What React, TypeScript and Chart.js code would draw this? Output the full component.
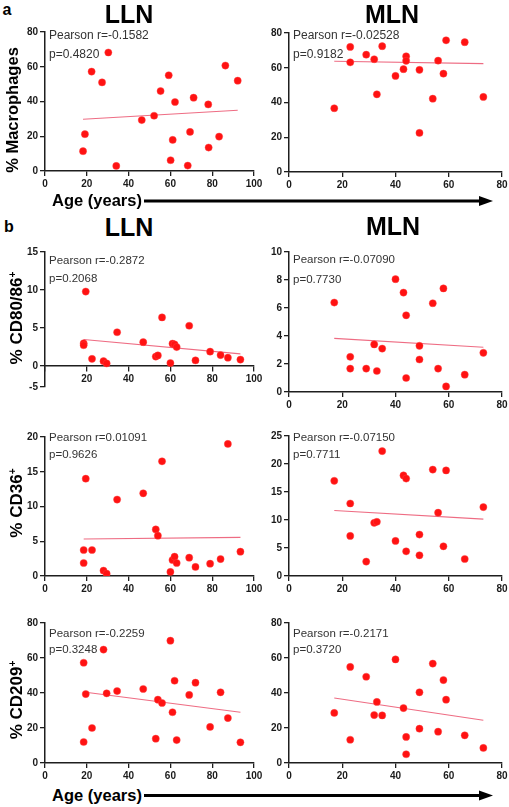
import React, { useEffect, useRef } from "react";
import { Chart, registerables } from "chart.js";
Chart.register(...registerables);

// ---------------- data ----------------
// panel a, LLN: age and % macrophages
const LLN_AGE_A = [18.2, 19.1, 22.3, 27.3, 30.3, 34.1, 46.3, 52.2, 55.3, 59.2, 60.1, 61.1, 62.2, 68.3, 69.4, 71.1, 78.1, 78.3, 83.3, 86.3, 92.2];
const LLN_MACRO = [11.4, 21.2, 57.2, 51, 68.2, 2.9, 29.3, 31.8, 46, 55.1, 6.2, 17.9, 39.7, 3.1, 22.5, 42.2, 38.3, 13.5, 19.8, 60.7, 52];
// panel b, LLN ages
const LLN_AGE_B = [18.5, 18.5, 19.5, 22.5, 28, 29.5, 34.5, 47, 53, 54, 56, 60, 61, 62, 63, 69, 72, 79, 84, 87.5, 93.5];
const LLN_CD8086 = [3.0, 2.75, 9.8, 0.95, 0.65, 0.35, 4.45, 3.15, 1.25, 1.4, 6.4, 0.4, 2.95, 2.85, 2.5, 5.3, 0.75, 1.9, 1.45, 1.1, 0.85];
const LLN_CD36 = [1.87, 3.74, 14.0, 3.74, 0.77, 0.34, 11.0, 11.9, 6.7, 5.8, 16.5, 0.58, 2.3, 2.78, 1.87, 2.64, 1.3, 1.77, 2.44, 19.0, 3.5];
const LLN_CD209 = [57.3, 12, 39.4, 20, 64.8, 39.8, 41.1, 42.3, 13.9, 36.2, 34.3, 69.9, 29, 47, 13.1, 38.9, 45.9, 20.6, 40.4, 25.7, 11.8];
// MLN ages (all panels)
const MLN_AGE = [17, 23, 23, 29, 32, 33, 35, 40, 43, 44, 44, 49, 49, 54, 56, 58, 59, 66, 73];
const MLN_MACRO = [36.7, 72, 63.1, 67.5, 64.9, 44.7, 72.4, 55.3, 59.2, 66.6, 64, 58.8, 22.5, 42.2, 64.1, 56.6, 75.8, 74.7, 43.2];
const MLN_CD8086 = [6.39, 2.51, 1.67, 1.67, 3.4, 1.5, 3.1, 8.06, 7.1, 5.48, 1.0, 3.3, 2.32, 6.34, 1.67, 7.4, 0.4, 1.24, 2.8];
const MLN_CD36 = [17.0, 12.95, 7.16, 2.57, 9.5, 9.67, 22.3, 6.26, 17.96, 17.4, 4.4, 7.4, 3.7, 19.0, 11.3, 5.3, 18.85, 3.04, 12.3];
const MLN_CD209 = [28.6, 54.9, 13.3, 49.3, 27.4, 34.9, 27.2, 59.2, 31.4, 14.9, 5, 40.4, 19.6, 56.8, 17.9, 47.4, 36.2, 15.8, 8.6];

// regression line values at min and max age
const LLN_MACRO_FIT = [29.8, 35.0];
const MLN_MACRO_FIT = [63.7, 62.4];
const LLN_CD8086_FIT = [3.5, 1.6];
const MLN_CD8086_FIT = [3.83, 3.2];
const LLN_CD36_FIT = [5.32, 5.56];
const MLN_CD36_FIT = [11.7, 10.15];
const LLN_CD209_FIT = [40.6, 29.0];
const MLN_CD209_FIT = [37.1, 24.4];

// statistics text
const PEARSON_R = ["-0.1582", "-0.02528", "-0.2872", "-0.07090", "0.01091", "-0.07150", "-0.2259", "-0.2171"];
const P_VALUES = ["0.4820", "0.9182", "0.2068", "0.7730", "0.9626", "0.7711", "0.3248", "0.3720"];

// tick values / labels
const LLN_X_TICKS = [0, 20, 40, 60, 80, 100];
const LLN_X_LABELS = ["0", "20", "40", "60", "80", "100"];
const LLN_X_LABELS_B1 = ["", "20", "40", "60", "80", "100"];
const MLN_X_TICKS = [0, 20, 40, 60, 80];
const MLN_X_LABELS = ["0", "20", "40", "60", "80"];
const Y_TICKS_80 = [0, 20, 40, 60, 80];
const Y_LABELS_80 = ["0", "20", "40", "60", "80"];
// the -5 tick sits on a compressed segment below 0
const Y_TICKS_CD8086_LLN = [-2.75, 0, 5, 10, 15];
const Y_LABELS_CD8086_LLN = ["-5", "0", "5", "10", "15"];
const Y_TICKS_10 = [0, 2, 4, 6, 8, 10];
const Y_LABELS_10 = ["0", "2", "4", "6", "8", "10"];
const Y_TICKS_20 = [0, 5, 10, 15, 20];
const Y_LABELS_20 = ["0", "5", "10", "15", "20"];
const Y_TICKS_25 = [0, 5, 10, 15, 20, 25];
const Y_LABELS_25 = ["0", "5", "10", "15", "20", "25"];

// ---------------- layout ----------------
const FONT = "'Liberation Sans', Arial, Helvetica, sans-serif";
const LLN_BOX = { left: 45, right: 254, yw: 45 };
const MLN_BOX = { left: 289, right: 502, yw: 40 };

type Spec = {
  x: number[]; y: number[]; fit: number[];
  xTicks: number[]; xLabels: string[]; yTicks: number[]; yLabels: string[];
  box: { left: number; right: number; yw: number };
  top: number; bottom: number; xAtZero?: boolean;
  stat: number; statY: [number, number]; statSize: number;
};

const SPECS: Spec[] = [
  { x: LLN_AGE_A, y: LLN_MACRO, fit: LLN_MACRO_FIT, xTicks: LLN_X_TICKS, xLabels: LLN_X_LABELS, yTicks: Y_TICKS_80, yLabels: Y_LABELS_80, box: LLN_BOX, top: 32, bottom: 171, stat: 0, statY: [35, 54], statSize: 12 },
  { x: MLN_AGE, y: MLN_MACRO, fit: MLN_MACRO_FIT, xTicks: MLN_X_TICKS, xLabels: MLN_X_LABELS, yTicks: Y_TICKS_80, yLabels: Y_LABELS_80, box: MLN_BOX, top: 33, bottom: 172, stat: 1, statY: [35, 54], statSize: 12 },
  { x: LLN_AGE_B, y: LLN_CD8086, fit: LLN_CD8086_FIT, xTicks: LLN_X_TICKS, xLabels: LLN_X_LABELS_B1, yTicks: Y_TICKS_CD8086_LLN, yLabels: Y_LABELS_CD8086_LLN, box: LLN_BOX, top: 252, bottom: 387, xAtZero: true, stat: 2, statY: [260, 278], statSize: 11.5 },
  { x: MLN_AGE, y: MLN_CD8086, fit: MLN_CD8086_FIT, xTicks: MLN_X_TICKS, xLabels: MLN_X_LABELS, yTicks: Y_TICKS_10, yLabels: Y_LABELS_10, box: MLN_BOX, top: 252, bottom: 392, stat: 3, statY: [259, 279], statSize: 11.5 },
  { x: LLN_AGE_B, y: LLN_CD36, fit: LLN_CD36_FIT, xTicks: LLN_X_TICKS, xLabels: LLN_X_LABELS, yTicks: Y_TICKS_20, yLabels: Y_LABELS_20, box: LLN_BOX, top: 437, bottom: 576, stat: 4, statY: [437, 454], statSize: 11.5 },
  { x: MLN_AGE, y: MLN_CD36, fit: MLN_CD36_FIT, xTicks: MLN_X_TICKS, xLabels: MLN_X_LABELS, yTicks: Y_TICKS_25, yLabels: Y_LABELS_25, box: MLN_BOX, top: 436, bottom: 576, stat: 5, statY: [437, 454], statSize: 11.5 },
  { x: LLN_AGE_B, y: LLN_CD209, fit: LLN_CD209_FIT, xTicks: LLN_X_TICKS, xLabels: LLN_X_LABELS, yTicks: Y_TICKS_80, yLabels: Y_LABELS_80, box: LLN_BOX, top: 623, bottom: 763, stat: 6, statY: [633, 649], statSize: 11.5 },
  { x: MLN_AGE, y: MLN_CD209, fit: MLN_CD209_FIT, xTicks: MLN_X_TICKS, xLabels: MLN_X_LABELS, yTicks: Y_TICKS_80, yLabels: Y_LABELS_80, box: MLN_BOX, top: 623, bottom: 763, stat: 7, statY: [633, 649], statSize: 11.5 },
];

const PAD_TOP = 10;
const PAD_RIGHT = 14;
const XH = 22;
const PAD_BOTTOM_ZERO = 8;

function geom(s: Spec) {
  const w = s.box.yw + (s.box.right - s.box.left) + PAD_RIGHT;
  const h = PAD_TOP + (s.bottom - s.top) + (s.xAtZero ? PAD_BOTTOM_ZERO : XH);
  return { left: s.box.left - s.box.yw, top: s.top - PAD_TOP, w, h };
}

function buildConfig(s: Spec): any {
  const pts = s.x.map((v, i) => ({ x: v, y: s.y[i] }));
  const xmin = Math.min(...s.x);
  const xmax = Math.max(...s.x);
  const fitPts = [{ x: xmin, y: s.fit[0] }, { x: xmax, y: s.fit[1] }];
  const tickFont = { family: FONT, size: 10, weight: "bold" as const };
  const axisColor = "#1e1e1e";
  return {
    type: "scatter",
    data: {
      datasets: [
        {
          data: pts,
          order: 0,
          pointRadius: 3.6,
          pointBackgroundColor: "#ff1212",
          pointBorderColor: "rgba(255,70,70,0.7)",
          pointBorderWidth: 0.6,
          showLine: false,
        },
        {
          data: fitPts,
          order: 1,
          showLine: true,
          borderColor: "rgba(236,92,118,0.9)",
          borderWidth: 1.1,
          pointRadius: 0,
        },
      ],
    },
    options: {
      animation: false,
      responsive: false,
      events: [],
      layout: { padding: { top: PAD_TOP, right: PAD_RIGHT, bottom: s.xAtZero ? PAD_BOTTOM_ZERO : 0, left: 0 } },
      plugins: { legend: { display: false }, tooltip: { enabled: false } },
      scales: {
        x: {
          type: "linear",
          min: s.xTicks[0],
          max: s.xTicks[s.xTicks.length - 1],
          position: s.xAtZero ? { y: 0 } : "bottom",
          afterBuildTicks: (sc: any) => { sc.ticks = s.xTicks.map((v) => ({ value: v })); },
          afterFit: (sc: any) => { sc.height = s.xAtZero ? 0 : XH; },
          grid: { display: true, drawOnChartArea: false, drawTicks: true, tickLength: 5, color: axisColor, lineWidth: 1.3 },
          border: { display: true, color: axisColor, width: 1.5 },
          ticks: {
            font: tickFont, color: "#1a1a1a", padding: 2, maxRotation: 0, autoSkip: false,
            callback: (_v: any, i: number) => s.xLabels[i],
          },
        },
        y: {
          type: "linear",
          min: s.yTicks[0],
          max: s.yTicks[s.yTicks.length - 1],
          afterBuildTicks: (sc: any) => { sc.ticks = s.yTicks.map((v) => ({ value: v })); },
          afterFit: (sc: any) => { sc.width = s.box.yw; },
          grid: { display: true, drawOnChartArea: false, drawTicks: true, tickLength: 5, color: axisColor, lineWidth: 1.3 },
          border: { display: true, color: axisColor, width: 1.5 },
          ticks: {
            font: tickFont, color: "#1a1a1a", padding: 2, autoSkip: false,
            callback: (_v: any, i: number) => s.yLabels[i],
          },
        },
      },
    },
  };
}

function Panel({ spec }: { spec: Spec }) {
  const ref = useRef<HTMLCanvasElement | null>(null);
  useEffect(() => {
    if (!ref.current) return;
    const chart = new Chart(ref.current, buildConfig(spec));
    return () => chart.destroy();
  }, [spec]);
  const g = geom(spec);
  return (
    <canvas
      ref={ref}
      width={g.w}
      height={g.h}
      style={{ position: "absolute", left: g.left, top: g.top, width: g.w, height: g.h }}
    />
  );
}

function Stat({ spec }: { spec: Spec }) {
  const left = spec.box.left + 4;
  const lh = spec.statSize + 3;
  const style = (cy: number): React.CSSProperties => ({
    position: "absolute", left, top: cy - lh / 2, height: lh, lineHeight: lh + "px",
    fontFamily: FONT, fontSize: spec.statSize, color: "#333", whiteSpace: "nowrap",
  });
  return (
    <>
      <div style={style(spec.statY[0])}>Pearson r={PEARSON_R[spec.stat]}</div>
      <div style={style(spec.statY[1])}>p={P_VALUES[spec.stat]}</div>
    </>
  );
}

function Text({ x, y, size, children, rotate }: { x: number; y: number; size: number; children: React.ReactNode; rotate?: boolean }) {
  return (
    <div
      style={{
        position: "absolute", left: x, top: y, transform: `translate(-50%,-50%)${rotate ? " rotate(-90deg)" : ""}`,
        fontFamily: FONT, fontWeight: "bold", fontSize: size, color: "#000", whiteSpace: "nowrap", lineHeight: 1,
      }}
    >
      {children}
    </div>
  );
}

const sup = (t: string) => <sup style={{ fontSize: "0.6em", verticalAlign: "0.55em" }}>{t}</sup>;

export default function App() {
  return (
    <div style={{ position: "absolute", left: 0, top: 0, width: 509, height: 807, background: "#fff", overflow: "hidden" }}>
      {SPECS.map((s, i) => <Panel key={"p" + i} spec={s} />)}
      {SPECS.map((s, i) => <Stat key={"s" + i} spec={s} />)}
      <Text x={7} y={10} size={16}>a</Text>
      <Text x={9} y={227} size={16}>b</Text>
      <Text x={129} y={14} size={25}>LLN</Text>
      <Text x={392} y={14} size={25}>MLN</Text>
      <Text x={129} y={227} size={25}>LLN</Text>
      <Text x={393} y={226} size={25}>MLN</Text>
      <Text x={12} y={110} size={16.5} rotate>% Macrophages</Text>
      <Text x={16} y={318} size={17} rotate>% CD80/86{sup("+")}</Text>
      <Text x={16} y={503} size={17} rotate>% CD36{sup("+")}</Text>
      <Text x={16} y={700} size={17} rotate>% CD209{sup("+")}</Text>
      <Text x={97} y={200} size={16.5}>Age (years)</Text>
      <Text x={97} y={795} size={16.5}>Age (years)</Text>
      <svg width={509} height={807} style={{ position: "absolute", left: 0, top: 0, pointerEvents: "none" }}>
        <line x1={144} y1={201} x2={482} y2={201} stroke="#000" strokeWidth={3} />
        <polygon points="479,196 493,201 479,206" fill="#000" />
        <line x1={144} y1={795.5} x2={482} y2={795.5} stroke="#000" strokeWidth={3} />
        <polygon points="479,790.5 493,795.5 479,800.5" fill="#000" />
      </svg>
    </div>
  );
}
